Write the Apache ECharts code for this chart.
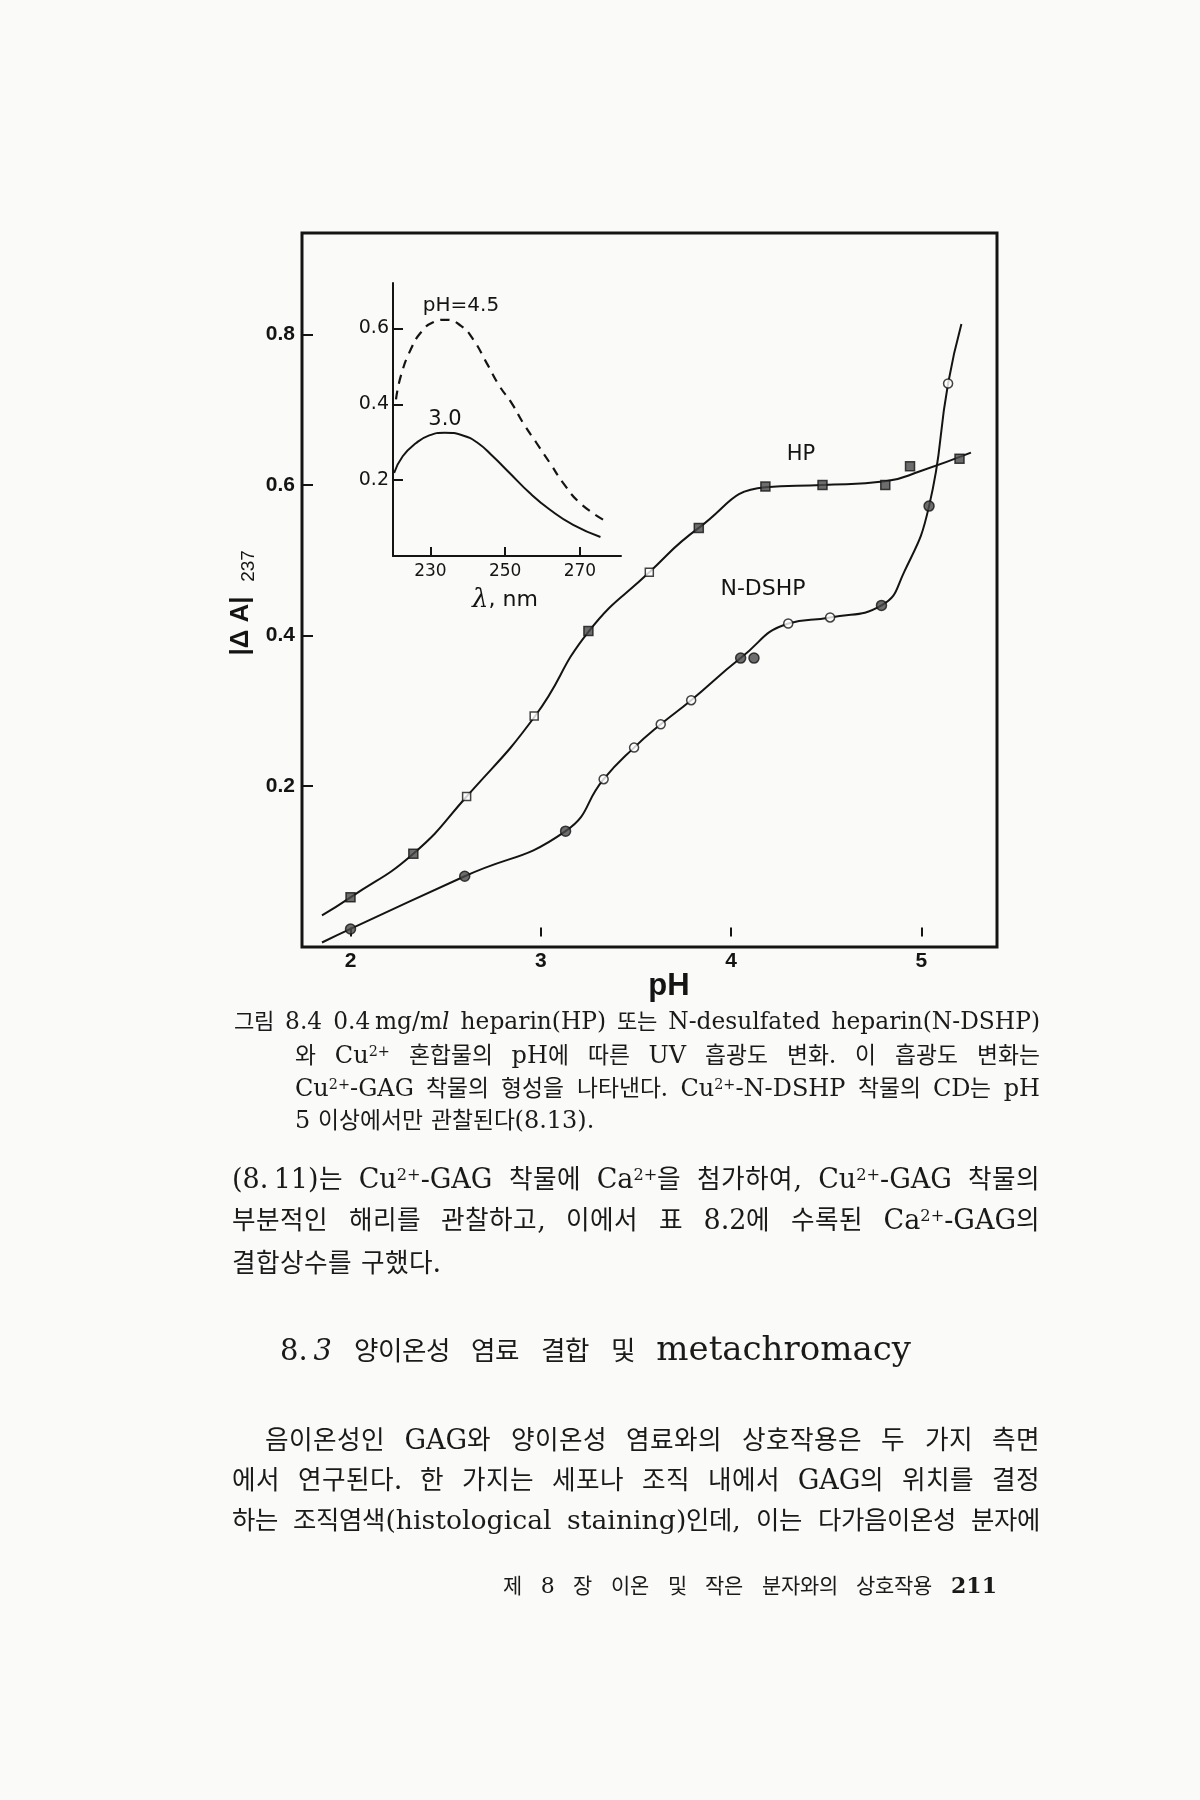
<!DOCTYPE html>
<html><head><meta charset="utf-8">
<script src="https://cdn.jsdelivr.net/npm/echarts@6/dist/echarts.min.js"></script>
<style>
@font-face{font-family:"KRs";src:local("Noto Sans CJK KR Regular"),local("NotoSansCJKkr-Regular"),local("Noto Sans CJK KR");size-adjust:95%;}
html,body{margin:0;padding:0;background:#fafaf8;}
#chart{position:absolute;left:0;top:0;width:1200px;height:1800px;}
.t{position:absolute;white-space:nowrap;text-align:justify;text-align-last:justify;font-family:"DejaVu Serif","KRs","Noto Sans CJK KR",serif;color:#1a1a1a;}
.l{text-align:left;text-align-last:left;}
.k{font-size:28px;}
.n{font-size:29px;}
sup{font-size:0.6em;position:relative;top:-0.5em;line-height:0;vertical-align:baseline;}
</style></head><body>
<div id="chart"></div>

<div class="t" data-w="806" style="left:234px;top:1006px;font-size:24px;line-height:30px">그림 8.4 0.4&#8201;mg/m<i>l</i> heparin(HP) 또는 N-desulfated heparin(N-DSHP)</div>
<div class="t" data-w="745" style="left:295px;top:1040px;font-size:24px;line-height:30px">와 Cu<sup>2+</sup> 혼합물의 pH에 따른 UV 흡광도 변화. 이 흡광도 변화는</div>
<div class="t" data-w="745" style="left:295px;top:1073px;font-size:24px;line-height:30px">Cu<sup>2+</sup>-GAG 착물의 형성을 나타낸다. Cu<sup>2+</sup>-N-DSHP 착물의 CD는 pH</div>
<div class="t l" style="left:295px;top:1105px;font-size:24px;line-height:30px">5 이상에서만 관찰된다(8.13).</div>

<div class="t" data-w="808" style="left:232px;top:1162px;font-size:27px;line-height:34px">(8.&#8201;11)는 Cu<sup>2+</sup>-GAG 착물에 Ca<sup>2+</sup>을 첨가하여, Cu<sup>2+</sup>-GAG 착물의</div>
<div class="t" data-w="808" style="left:232px;top:1203px;font-size:27px;line-height:34px">부분적인 해리를 관찰하고, 이에서 표 8.2에 수록된 Ca<sup>2+</sup>-GAG의</div>
<div class="t l" style="left:232px;top:1246px;font-size:27px;line-height:34px">결합상수를 구했다.</div>

<div class="t" data-w="631" style="left:280px;top:1328px;font-size:34px;line-height:40px"><span class="n">8.&#8201;<i>3</i></span> <span class="k">양이온성</span> <span class="k">염료</span> <span class="k">결합</span> <span class="k">및</span> metachromacy</div>

<div class="t" data-w="775" style="left:265px;top:1423px;font-size:27px;line-height:34px">음이온성인 GAG와 양이온성 염료와의 상호작용은 두 가지 측면</div>
<div class="t" data-w="808" style="left:232px;top:1463px;font-size:27px;line-height:34px">에서 연구된다. 한 가지는 세포나 조직 내에서 GAG의 위치를 결정</div>
<div class="t" data-w="808" style="left:232px;top:1503px;font-size:27px;line-height:34px">하는 조직염색(histological staining)인데, 이는 다가음이온성 분자에</div>

<div class="t" data-w="494" style="left:503px;top:1570px;font-size:22px;line-height:30px">제 8 장 이온 및 작은 분자와의 상호작용 <b>211</b></div>

<script>
// ---- main plot: |ΔA|237 vs pH ----
const phTicks = [2, 3, 4, 5];
const aTicks = [0.2, 0.4, 0.6, 0.8];

// smooth curves as drawn
const hpCurvePH = [1.85, 2.0, 2.33, 2.61, 2.97, 3.25, 3.57, 3.83, 4.18, 4.48, 4.81, 5.0, 5.26];
const hpCurveA  = [0.028, 0.052, 0.11, 0.186, 0.293, 0.405, 0.484, 0.543, 0.597, 0.6, 0.605, 0.619, 0.643];

const nCurvePH = [1.85, 2.0, 2.6, 3.13, 3.33, 3.49, 3.63, 3.79, 4.05, 4.3, 4.52, 4.79, 4.91, 5.04, 5.14, 5.21];
const nCurveA  = [-0.008, 0.01, 0.08, 0.14, 0.209, 0.251, 0.282, 0.314, 0.37, 0.416, 0.424, 0.44, 0.485, 0.572, 0.735, 0.814];

// measured points
const hpClosedPH = [2.0, 2.33, 3.25, 3.83, 4.18, 4.48, 4.81, 4.94, 5.20];
const hpClosedA  = [0.052, 0.11, 0.406, 0.543, 0.598, 0.6, 0.6, 0.625, 0.635];
const hpOpenPH = [2.61, 2.965, 3.57];
const hpOpenA  = [0.186, 0.293, 0.484];

const nClosedPH = [2.0, 2.6, 3.13, 4.05, 4.12, 4.79, 5.04];
const nClosedA  = [0.01, 0.08, 0.14, 0.37, 0.37, 0.44, 0.572];
const nOpenPH = [3.33, 3.49, 3.63, 3.79, 4.30, 4.52, 5.14];
const nOpenA  = [0.209, 0.251, 0.282, 0.314, 0.416, 0.424, 0.735];

// ---- inset: absorbance spectra ----
const lamTicks = [230, 250, 270];
const insetATicks = [0.2, 0.4, 0.6];
const lam45 = [220.8, 222.1, 224.8, 227.5, 230.6, 234.2, 238.2, 241.4, 245, 248.5, 251.7, 254.8, 258.4, 262, 265.5, 270, 276.2];
const abs45 = [0.413, 0.475, 0.546, 0.59, 0.616, 0.623, 0.607, 0.572, 0.51, 0.448, 0.404, 0.351, 0.298, 0.245, 0.193, 0.14, 0.096];
const lam30 = [220.3, 222.6, 226.2, 229.7, 233.8, 238.7, 242.7, 246.7, 251.2, 256.6, 262, 268.2, 275.5];
const abs30 = [0.219, 0.263, 0.298, 0.318, 0.325, 0.318, 0.298, 0.263, 0.219, 0.166, 0.122, 0.082, 0.05];

const zip = (a, b) => a.map((v, i) => [v, b[i]]);
const INK = '#141414';
const SANS = '"Liberation Sans", Arial, sans-serif';
const DJ = '"DejaVu Sans", sans-serif';

const chart = echarts.init(document.getElementById('chart'), null, { renderer: 'canvas' });

const option = {
  backgroundColor: '#fafaf8',
  animation: false,
  grid: [
    { left: 302, top: 233, right: 203, bottom: 853, show: true, borderColor: INK, borderWidth: 3, backgroundColor: 'transparent' },
    { left: 393, top: 283, right: 579, bottom: 1244, show: false }
  ],
  xAxis: [
    {
      type: 'value', gridIndex: 0, min: 1.745, max: 5.397,
      axisLine: { show: false },
      axisTick: { show: true, inside: true, length: 9, customValues: phTicks, lineStyle: { color: INK, width: 2 } },
      axisLabel: { customValues: phTicks, fontFamily: SANS, fontWeight: 'bold', fontSize: 21, color: INK, margin: 4 },
      splitLine: { show: false }
    },
    {
      type: 'value', gridIndex: 1, min: 220, max: 281,
      axisLine: { show: true, onZero: false, lineStyle: { color: INK, width: 2 } },
      axisTick: { show: true, inside: true, length: 9, customValues: lamTicks, lineStyle: { color: INK, width: 2 } },
      axisLabel: { customValues: lamTicks, fontFamily: DJ, fontSize: 17, color: INK, margin: 7 },
      splitLine: { show: false }
    }
  ],
  yAxis: [
    {
      type: 'value', gridIndex: 0, min: -0.014, max: 0.935,
      axisLine: { show: false },
      axisTick: { show: true, inside: true, length: 11, customValues: aTicks, lineStyle: { color: INK, width: 2 } },
      axisLabel: { customValues: aTicks, formatter: v => v.toFixed(1), fontFamily: SANS, fontWeight: 'bold', fontSize: 21, color: INK, margin: 7 },
      splitLine: { show: false }
    },
    {
      type: 'value', gridIndex: 1, min: 0, max: 0.72,
      axisLine: { show: true, onZero: false, lineStyle: { color: INK, width: 2 } },
      axisTick: { show: true, inside: true, length: 10, customValues: insetATicks, lineStyle: { color: INK, width: 2 } },
      axisLabel: { customValues: insetATicks, formatter: v => v.toFixed(1), fontFamily: DJ, fontSize: 19, color: INK, margin: 4 },
      splitLine: { show: false }
    }
  ],
  series: [
    { name: 'HP', type: 'line', xAxisIndex: 0, yAxisIndex: 0, data: zip(hpCurvePH, hpCurveA), smooth: 0.5, showSymbol: false, lineStyle: { color: INK, width: 2 }, z: 2 },
    { name: 'N-DSHP', type: 'line', xAxisIndex: 0, yAxisIndex: 0, data: zip(nCurvePH, nCurveA), smooth: 0.5, showSymbol: false, lineStyle: { color: INK, width: 2 }, z: 2 },
    { name: 'HP closed', type: 'scatter', xAxisIndex: 0, yAxisIndex: 0, data: zip(hpClosedPH, hpClosedA), symbol: 'rect', symbolSize: 9, itemStyle: { color: '#4a4a4a', borderColor: INK, borderWidth: 1.5 }, z: 5 },
    { name: 'HP open', type: 'scatter', xAxisIndex: 0, yAxisIndex: 0, data: zip(hpOpenPH, hpOpenA), symbol: 'rect', symbolSize: 8, itemStyle: { color: '#ffffff', borderColor: INK, borderWidth: 1.5 }, z: 5 },
    { name: 'N-DSHP closed', type: 'scatter', xAxisIndex: 0, yAxisIndex: 0, data: zip(nClosedPH, nClosedA), symbol: 'circle', symbolSize: 10, itemStyle: { color: '#4a4a4a', borderColor: INK, borderWidth: 1.5 }, z: 5 },
    { name: 'N-DSHP open', type: 'scatter', xAxisIndex: 0, yAxisIndex: 0, data: zip(nOpenPH, nOpenA), symbol: 'circle', symbolSize: 9, itemStyle: { color: '#ffffff', borderColor: INK, borderWidth: 1.5 }, z: 5 },
    { name: 'pH=4.5', type: 'line', xAxisIndex: 1, yAxisIndex: 1, data: zip(lam45, abs45), smooth: 0.5, showSymbol: false, lineStyle: { color: INK, width: 2.2, type: [9, 7] }, z: 2 },
    { name: '3.0', type: 'line', xAxisIndex: 1, yAxisIndex: 1, data: zip(lam30, abs30), smooth: 0.5, showSymbol: false, lineStyle: { color: INK, width: 2 }, z: 2 }
  ],
  graphic: [
    { type: 'text', x: 241, y: 626, rotation: Math.PI / 2, style: { text: '|Δ A|', font: 'bold 26px "Liberation Sans", Arial', fill: INK, align: 'center', verticalAlign: 'middle' } },
    { type: 'text', x: 249, y: 566, rotation: Math.PI / 2, style: { text: '237', font: '19px "Liberation Sans", Arial', fill: INK, align: 'center', verticalAlign: 'middle' } },
    { type: 'text', x: 669, y: 986, style: { text: 'pH', font: 'bold 31px "Liberation Sans", Arial', fill: INK, align: 'center', verticalAlign: 'middle' } },
    { type: 'text', x: 801, y: 455, style: { text: 'HP', font: '21px "DejaVu Sans"', fill: INK, align: 'center', verticalAlign: 'middle' } },
    { type: 'text', x: 763, y: 589, style: { text: 'N-DSHP', font: '22px "DejaVu Sans"', fill: INK, align: 'center', verticalAlign: 'middle' } },
    { type: 'text', x: 461, y: 306, style: { text: 'pH=4.5', font: '20px "DejaVu Sans"', fill: INK, align: 'center', verticalAlign: 'middle' } },
    { type: 'text', x: 445, y: 420, style: { text: '3.0', font: '21px "DejaVu Sans"', fill: INK, align: 'center', verticalAlign: 'middle' } },
    { type: 'text', x: 505, y: 600, style: {
        text: '{l|λ}{r|, nm}', align: 'center', verticalAlign: 'middle',
        rich: { l: { font: 'italic 26px "DejaVu Serif"', fill: INK }, r: { font: '22px "DejaVu Sans"', fill: INK } }
      } }
  ]
};
chart.setOption(option);

// fit each justified text line into its measured width
function fitLines() {
  document.querySelectorAll('.t[data-w]').forEach(el => {
    const target = parseFloat(el.dataset.w);
    if (!el.dataset.fs) el.dataset.fs = parseFloat(el.style.fontSize);
    el.style.fontSize = el.dataset.fs + 'px';
    el.style.width = 'auto';
    const nat = el.getBoundingClientRect().width;
    if (nat > target * 0.975) {
      el.style.fontSize = (parseFloat(el.dataset.fs) * target * 0.975 / nat) + 'px';
    }
    el.style.width = target + 'px';
  });
}
fitLines();
if (document.fonts && document.fonts.ready) document.fonts.ready.then(fitLines);
</script>
</body></html>
